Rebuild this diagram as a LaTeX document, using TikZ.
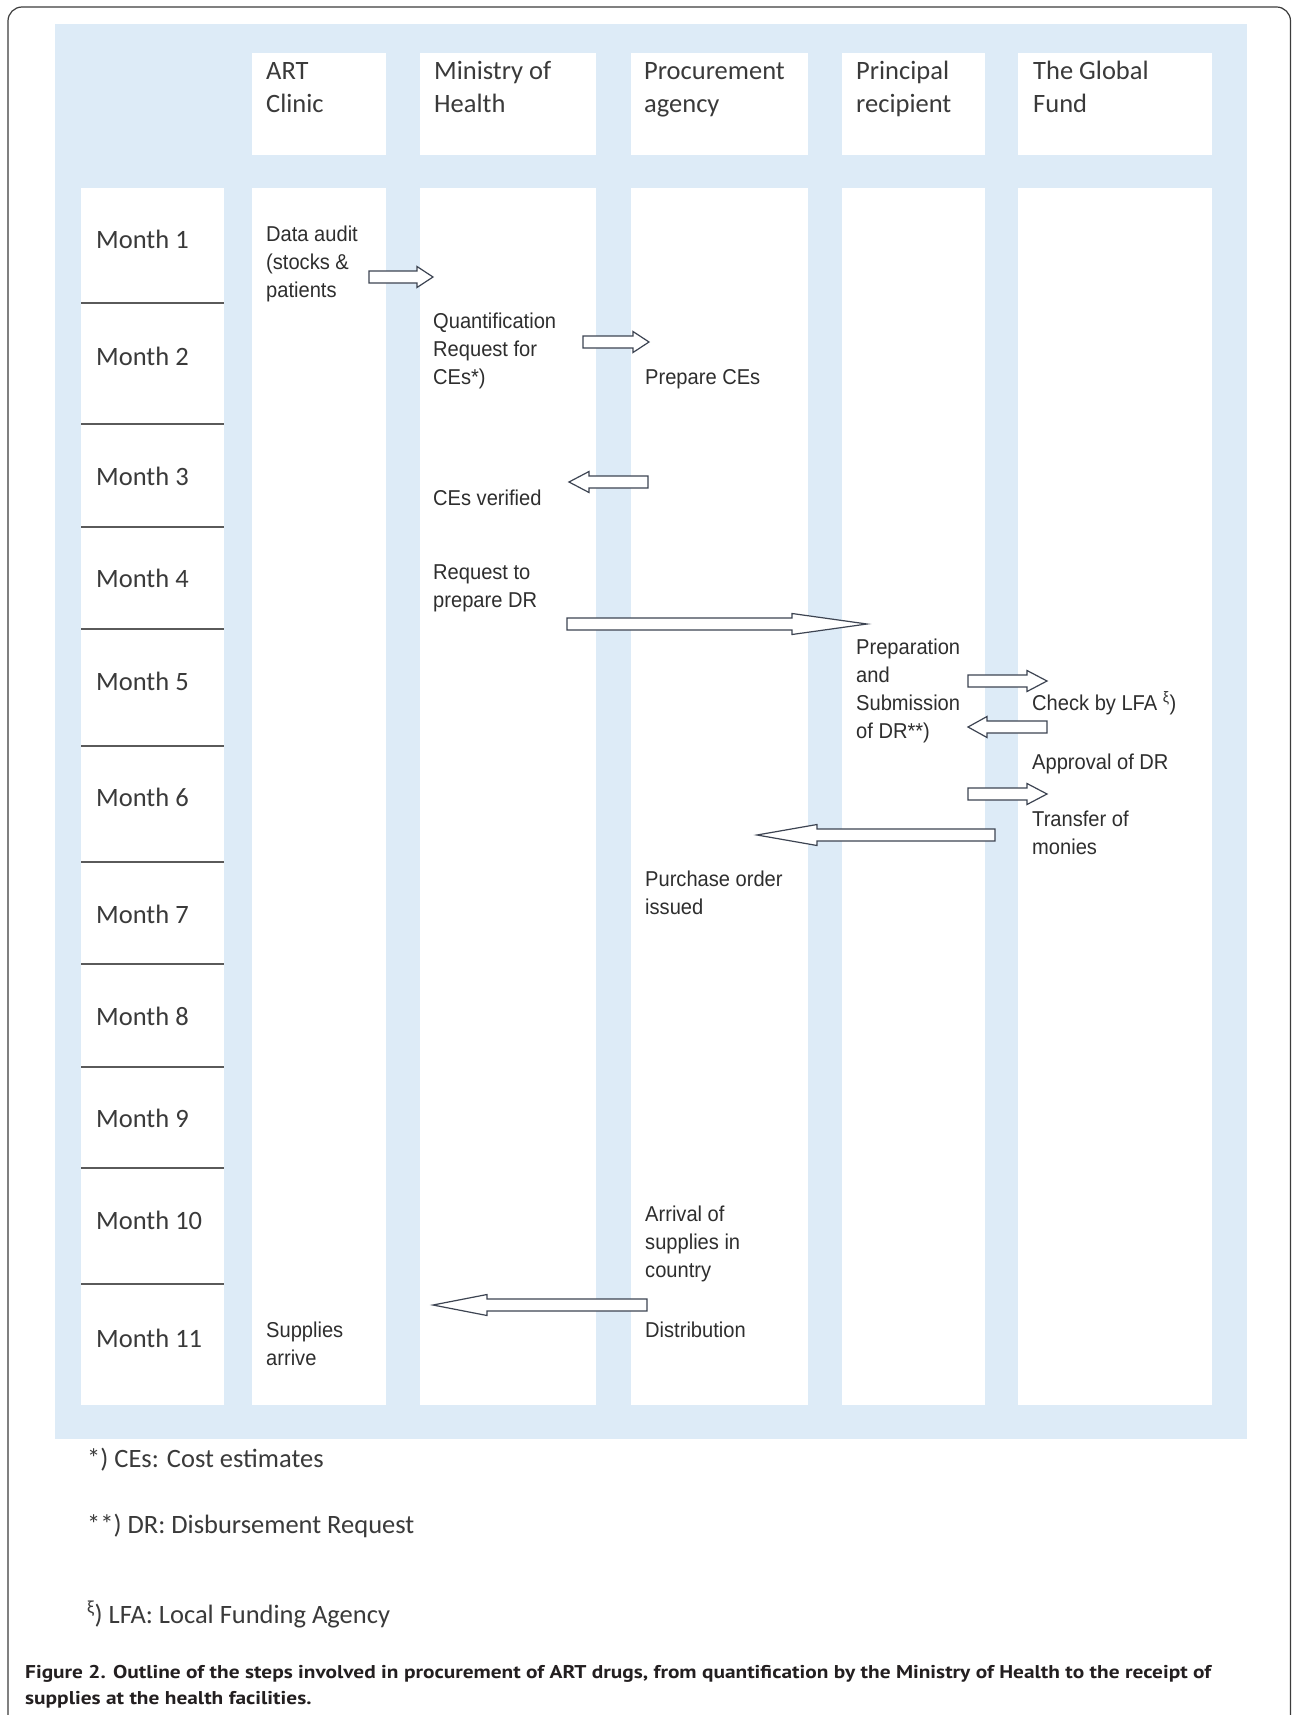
\documentclass[tikz,border=0pt]{standalone}
\usepackage{fontspec}
\usepackage{graphicx}
\usetikzlibrary{calc}
\setmainfont{Carlito}
\newfontfamily\calfont{Carlito}
\newfontfamily\arfont[FakeStretch=0.935]{Liberation Sans}
\newfontfamily\capfont{PT Sans}
\definecolor{bgblue}{HTML}{DDEBF7}
\definecolor{hdtext}{HTML}{3A3A3A}
\definecolor{bodytext}{HTML}{2E2E2E}
\definecolor{arrline}{HTML}{3D4452}
\definecolor{captext}{HTML}{231F20}
\definecolor{sepline}{HTML}{5A5A5A}
\definecolor{framecol}{HTML}{3C3C3C}
\newsavebox\capboxA
\newcommand\blockarr[3]{%
  \draw[arrowbox] let \p1=(#1), \p2=(#2), \n1={sign(\x2-\x1)*#3} in
    (\x1,\y1+6pt) -- (\x2-\n1,\y1+6pt) -- (\x2-\n1,\y1+10.5pt) -- (\x2,\y2)
    -- (\x2-\n1,\y1-10.5pt) -- (\x2-\n1,\y1-6pt) -- (\x1,\y1-6pt) -- cycle;}
% multi-line nodes: the base anchor sits on the LAST line's baseline
\tikzset{
  hdr/.style={anchor=base west, inner sep=0pt, align=left, text=hdtext, font=\calfont\fontsize{26.5}{33}\selectfont},
  monthlbl/.style={anchor=base west, inner sep=0pt, text=hdtext, font=\calfont\fontsize{26.5}{32}\selectfont},
  bodytxt/.style={anchor=base west, inner sep=0pt, align=left, text=bodytext, font=\arfont\fontsize{21.5}{28}\selectfont},
  fnote/.style={anchor=base west, inner sep=0pt, text=hdtext, font=\calfont\fontsize{26.5}{32}\selectfont},
  captxt/.style={anchor=base west, inner sep=0pt},
  arrowbox/.style={draw=arrline, fill=white, line width=1.2pt, line join=miter},
  cellbox/.style={fill=white},
  seprule/.style={draw=sepline, line width=1.6pt},
}
\begin{document}
\sbox\capboxA{\color{captext}\capfont\bfseries\fontsize{18.5}{26}\selectfont Figure 2. Outline of the steps involved in procurement of ART drugs, from quantification by the Ministry of Health to the receipt of}%
\pgfmathsetmacro\capsc{1186/\the\wd\capboxA}%
\begin{tikzpicture}[x=1pt,y=-1pt]
\useasboundingbox (0,0) rectangle (1292,1715);
% outer frame
\draw[framecol, line width=1.2pt, rounded corners=14pt] (8,1740) -- (8,7) -- (1290.5,7) -- (1290.5,1740);
% background
\fill[bgblue] (55,24) rectangle (1247,1439);
% header cells
\foreach \a/\b in {252/386, 420/596, 631/808, 842/985, 1018/1212}
  \fill[cellbox] (\a,53) rectangle (\b,155);
% body cells
\foreach \a/\b in {81/224, 252/386, 420/596, 631/808, 842/985, 1018/1212}
  \fill[cellbox] (\a,188) rectangle (\b,1405);
% month separators
\foreach \y in {303, 424, 527, 629, 746, 862, 964, 1067, 1168, 1284}
  \draw[seprule] (81,\y) -- (224,\y);
% headers (positions = baseline of second line)
\node[hdr] (hART) at (266,113) {ART\\Clinic};
\node[hdr] (hMOH) at (434,113) {Ministry of\\Health};
\node[hdr] (hPA) at (644,113) {Procurement\\agency};
\node[hdr] (hPR) at (856,113) {Principal\\recipient};
\node[hdr] (hGF) at (1033,113) {The Global\\Fund};
% months
\node[monthlbl] (m1) at (96,248) {Month 1};
\node[monthlbl] (m2) at (96,365) {Month 2};
\node[monthlbl] (m3) at (96,485) {Month 3};
\node[monthlbl] (m4) at (96,587) {Month 4};
\node[monthlbl] (m5) at (96,690) {Month 5};
\node[monthlbl] (m6) at (96,806) {Month 6};
\node[monthlbl] (m7) at (96,923) {Month 7};
\node[monthlbl] (m8) at (96,1025) {Month 8};
\node[monthlbl] (m9) at (96,1127) {Month 9};
\node[monthlbl] (m10) at (96,1229) {Month 10};
\node[monthlbl] (m11) at (96,1347) {Month 11};
% body texts (positions = baseline of last line)
\node[bodytxt] (audit) at (266,297) {Data audit\\(stocks \&\\patients};
\node[bodytxt] (arrive) at (266,1365) {Supplies\\arrive};
\node[bodytxt] (quant) at (433,384) {Quantification\\Request for\\CEs*)};
\node[bodytxt] (verif) at (433,505) {CEs verified};
\node[bodytxt] (reqdr) at (433,607) {Request to\\prepare DR};
\node[bodytxt] (prepce) at (645,384) {Prepare CEs};
\node[bodytxt] (purch) at (645,914) {Purchase order\\issued};
\node[bodytxt] (arriv) at (645,1277) {Arrival of\\supplies in\\country};
\node[bodytxt] (distr) at (645,1337) {Distribution};
\node[bodytxt] (prepdr) at (856,738) {Preparation\\and\\Submission\\of DR**)};
\node[bodytxt] (check) at (1032,710) {Check by LFA \textsuperscript{ξ})};
\node[bodytxt] (appr) at (1032,769) {Approval of DR};
\node[bodytxt] (transf) at (1032,854) {Transfer of\\monies};
% arrows
\coordinate (a1t) at (369,277);  \coordinate (a1h) at (433,277);
\coordinate (a2t) at (583,342);  \coordinate (a2h) at (649,342);
\coordinate (a3t) at (648,482);  \coordinate (a3h) at (569,482);
\coordinate (a4t) at (567,624);  \coordinate (a4h) at (867,624);
\coordinate (a5t) at (968,681);  \coordinate (a5h) at (1047,681);
\coordinate (a6t) at (1047,727); \coordinate (a6h) at (968,727);
\coordinate (a7t) at (968,794);  \coordinate (a7h) at (1047,794);
\coordinate (a8t) at (995,835);  \coordinate (a8h) at (757,835);
\coordinate (a9t) at (647,1305); \coordinate (a9h) at (433,1305);
\blockarr{a1t}{a1h}{16}
\blockarr{a2t}{a2h}{16}
\blockarr{a3t}{a3h}{20}
\blockarr{a4t}{a4h}{75}
\blockarr{a5t}{a5h}{20}
\blockarr{a6t}{a6h}{19}
\blockarr{a7t}{a7h}{20}
\blockarr{a8t}{a8h}{60}
\blockarr{a9t}{a9h}{54}
% footnotes
\node[fnote] (fn1) at (87,1467) {*) CEs: Cost estimates};
\node[fnote] (fn2) at (87,1533) {**) DR: Disbursement Request};
\node[fnote] (fn3) at (87,1623) {\textsuperscript{ξ}) LFA: Local Funding Agency};
% caption
\node[captxt] (cap1) at (25,1678) {\scalebox{\capsc}[1]{\usebox\capboxA}};
\node[captxt] (cap2) at (25,1704) {\scalebox{\capsc}[1]{\color{captext}\capfont\bfseries\fontsize{18.5}{26}\selectfont supplies at the health facilities.}};
\end{tikzpicture}
\end{document}
